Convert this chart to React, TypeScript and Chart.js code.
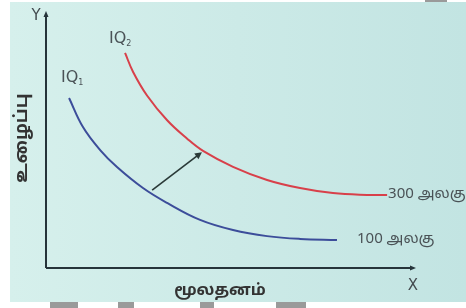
import React, { useEffect, useRef } from "react";
import { Chart, registerables } from "chart.js";

Chart.register(...registerables);

// Isoquant IQ1 (100 units) — capital (x) vs labour (y)
const iq1X = [6.3, 10.1, 14.8, 19.4, 26.5, 33.1, 42.1, 51.1, 60.4, 69.4, 79.5];
const iq1Y = [67.2, 55.7, 46.6, 39.9, 31.6, 25.7, 19.0, 15.0, 12.6, 11.5, 11.1];
// Isoquant IQ2 (300 units)
const iq2X = [21.6, 23.8, 27.6, 33.1, 38.5, 42.9, 51.1, 60.4, 69.4, 78.4, 87.7, 93.2];
const iq2Y = [85.0, 77.5, 68.2, 58.4, 51.2, 46.3, 40.0, 34.8, 31.6, 29.6, 28.9, 28.9];
// Shift arrow
const arrowFrom = [29.0, 30.8];
const arrowTo = [42.6, 45.8];

const curveLabels = ["IQ", "IQ"];
const curveSubs = ["1", "2"];
const endLabels = ["100 அலகு", "300 அலகு"];
const xAxisTitle = "மூலதனம்";
const yAxisTitle = "உழைப்பு";

const TAMIL_FONT = "'Noto Sans Tamil', 'Lohit Tamil', 'Noto Sans', 'DejaVu Sans', sans-serif";

const toPts = (xs: number[], ys: number[]) => xs.map((x, i) => ({ x, y: ys[i] }));

export default function App() {
  const ref = useRef<HTMLCanvasElement | null>(null);
  useEffect(() => {
    if (!ref.current) return;
    const decor = {
      id: "decor",
      beforeDraw(chart: any) {
        const c = chart.ctx;
        c.save();
        c.fillStyle = "#ffffff";
        c.fillRect(0, 0, chart.width, chart.height);
        const g = c.createLinearGradient(10, 0, 466, 0);
        g.addColorStop(0, "#d6f0ec");
        g.addColorStop(1, "#c2e4e2");
        c.fillStyle = g;
        c.fillRect(10, 2, chart.width - 10, 300);
        c.fillStyle = "#9a9a9a";
        [[50, 302, 28], [118, 302, 16], [200, 302, 14], [276, 302, 30]].forEach(([x, y, w]) => c.fillRect(x, y, w, 6));
        c.fillRect(425, 0, 22, 2);
        c.restore();
      },
      afterDatasetsDraw(chart: any) {
        const c = chart.ctx;
        const xs = chart.scales.x;
        const ys = chart.scales.y;
        const x0 = xs.getPixelForValue(0);
        const y0 = ys.getPixelForValue(0);
        const yTop = ys.getPixelForValue(100);
        const xEnd = xs.getPixelForValue(100);
        c.save();
        // axes
        c.strokeStyle = "#26343a";
        c.lineWidth = 2;
        c.beginPath();
        c.moveTo(x0, y0);
        c.lineTo(x0, yTop - 1);
        c.moveTo(x0, y0);
        c.lineTo(xEnd + 1, y0);
        c.stroke();
        c.fillStyle = "#26343a";
        c.beginPath();
        c.moveTo(x0, yTop - 4);
        c.lineTo(x0 - 2.5, yTop + 2);
        c.lineTo(x0 + 2.5, yTop + 2);
        c.fill();
        c.beginPath();
        c.moveTo(xEnd + 4, y0);
        c.lineTo(xEnd - 2, y0 - 2.5);
        c.lineTo(xEnd - 2, y0 + 2.5);
        c.fill();
        // shift arrow
        const ax = xs.getPixelForValue(arrowFrom[0]);
        const ay = ys.getPixelForValue(arrowFrom[1]);
        const bx = xs.getPixelForValue(arrowTo[0]);
        const by = ys.getPixelForValue(arrowTo[1]);
        const ang = Math.atan2(by - ay, bx - ax);
        c.strokeStyle = "#2a3a38";
        c.lineWidth = 1.6;
        c.beginPath();
        c.moveTo(ax, ay);
        c.lineTo(bx - 4 * Math.cos(ang), by - 4 * Math.sin(ang));
        c.stroke();
        c.fillStyle = "#2a3a38";
        c.beginPath();
        c.moveTo(bx, by);
        c.lineTo(bx - 7 * Math.cos(ang) + 3.5 * Math.sin(ang), by - 7 * Math.sin(ang) - 3.5 * Math.cos(ang));
        c.lineTo(bx - 7 * Math.cos(ang) - 3.5 * Math.sin(ang), by - 7 * Math.sin(ang) + 3.5 * Math.cos(ang));
        c.fill();
        // axis letters
        c.fillStyle = "#444c50";
        c.font = "15px 'DejaVu Sans', sans-serif";
        c.textAlign = "center";
        c.textBaseline = "middle";
        c.fillText("Y", x0 - 10, yTop + 1);
        c.fillText("X", xEnd + 1, y0 + 18);
        // axis titles
        c.fillStyle = "#333";
        c.font = "bold 16px " + TAMIL_FONT;
        c.fillText(xAxisTitle, 220, y0 + 24);
        c.save();
        c.translate(x0 - 23, 138);
        c.rotate(-Math.PI / 2);
        c.font = "bold 18px " + TAMIL_FONT;
        c.fillText(yAxisTitle, 0, 0);
        c.restore();
        // curve labels
        const starts = [
          [iq1X[0], iq1Y[0]],
          [iq2X[0], iq2Y[0]],
        ];
        const ends = [
          [iq1X[iq1X.length - 1], iq1Y[iq1Y.length - 1]],
          [iq2X[iq2X.length - 1], iq2Y[iq2Y.length - 1]],
        ];
        const offs = [
          [-8, -20],
          [-16, -14],
        ];
        c.fillStyle = "#4a5256";
        for (let i = 0; i < 2; i++) {
          const sx = xs.getPixelForValue(starts[i][0]) + offs[i][0];
          const sy = ys.getPixelForValue(starts[i][1]) + offs[i][1];
          c.font = "16px 'DejaVu Sans', sans-serif";
          c.textAlign = "left";
          c.fillText(curveLabels[i], sx, sy);
          const w = c.measureText(curveLabels[i]).width;
          c.font = "8px 'DejaVu Sans', sans-serif";
          c.fillText(curveSubs[i], sx + w, sy + 5);
          const ex = xs.getPixelForValue(ends[i][0]);
          const ey = ys.getPixelForValue(ends[i][1]);
          c.font = "15px " + TAMIL_FONT;
          c.fillText(endLabels[i], ex + (i === 0 ? 20 : 1), ey);
        }
        c.restore();
      },
    };
    const chart = new Chart(ref.current, {
      type: "line",
      data: {
        datasets: [
          {
            data: toPts(iq1X, iq1Y),
            borderColor: "#3c4d9a",
            borderWidth: 2,
            pointRadius: 0,
            tension: 0.4,
          },
          {
            data: toPts(iq2X, iq2Y),
            borderColor: "#d8404a",
            borderWidth: 2,
            pointRadius: 0,
            tension: 0.4,
          },
        ],
      },
      options: {
        responsive: false,
        animation: false,
        layout: { padding: { left: 46, top: 15, right: 54, bottom: 40 } },
        plugins: { legend: { display: false }, tooltip: { enabled: false } },
        scales: {
          x: { type: "linear", min: 0, max: 100, display: false },
          y: { type: "linear", min: 0, max: 100, display: false },
        },
      },
      plugins: [decor],
    } as any);
    return () => chart.destroy();
  }, []);
  return (
    <div style={{ position: "fixed", left: 0, top: 0 }}>
      <canvas ref={ref} width={466} height={308} />
    </div>
  );
}
